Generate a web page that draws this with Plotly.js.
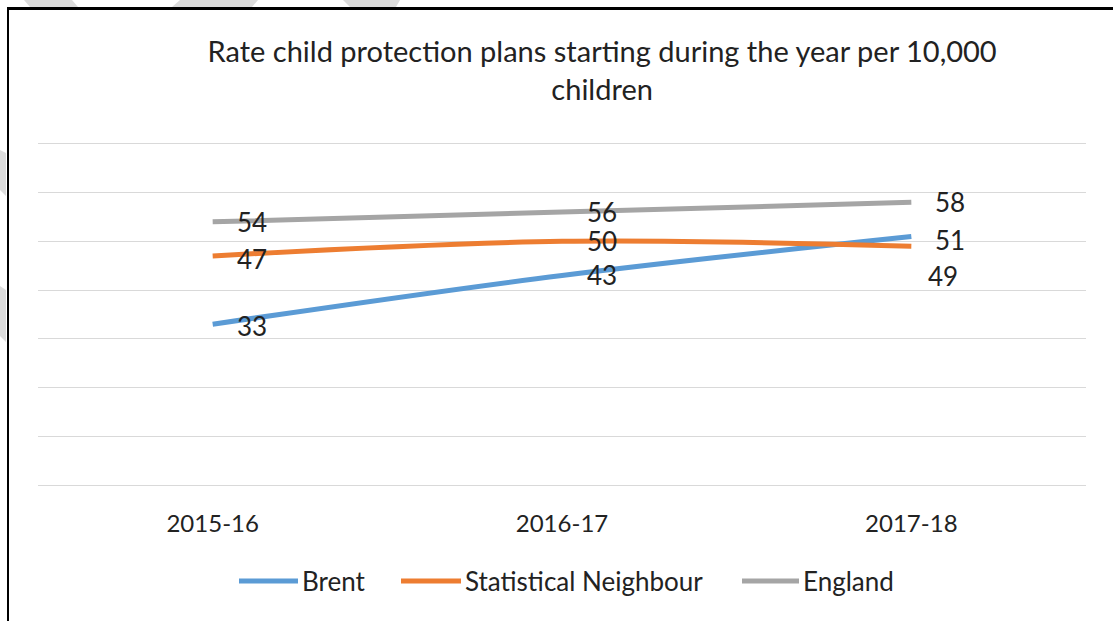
<!DOCTYPE html>
<html>
<head>
<meta charset="utf-8">
<script src="https://cdn.plot.ly/plotly-3.0.1.min.js"></script>
<style>
  html, body { margin: 0; padding: 0; background: #ffffff; }
  #wrap { position: relative; width: 1113px; height: 621px; overflow: hidden; }
  #chart { position: absolute; left: 0; top: 0; width: 1113px; height: 621px; }
  #frame { position: absolute; left: 7px; top: 7px; width: 1120px; height: 640px;
           border-left: 2px solid #000; border-top: 3px solid #000; pointer-events: none; }
  #wm { position: absolute; left: 0; top: 0; pointer-events: none; }
</style>
</head>
<body>
<div id="wrap">
  <div id="chart"></div>
  <svg id="wm" width="1113" height="621">
    <polygon points="24,0 72,0 78,7 30,7" fill="#dcdcdc"/>
    <polygon points="180,0 258,0 252,7 172,7" fill="#dcdcdc"/>
    <polygon points="343,0 400,0 396,7 350,7" fill="#dcdcdc"/>
    <polygon points="0,150 6,153 6,196 0,190" fill="#dcdcdc"/>
    <polygon points="0,286 6,290 6,342 0,336" fill="#dcdcdc"/>
  </svg>
  <div id="frame"></div>
</div>
<script>
// ---- data ----
const categories = ["2015-16", "2016-17", "2017-18"];
const brent = [33, 43, 51];
const statNeighbour = [47, 50, 49];
const england = [54, 56, 58];
const seriesNames = ["Brent", "Statistical Neighbour", "England"];
const chartTitle = "Rate child protection plans starting during the year per 10,000<br>children";

// ---- styling ----
const colors = ["#5B9BD5", "#ED7D31", "#A5A5A5"];
const FONT = "Lato, 'Open Sans', sans-serif";
const TEXT = "#222222";
const seriesValues = [brent, statNeighbour, england];

const M = { l: 38, r: 27, t: 139, b: 136 };
const W = 1113, H = 621;
const PW = W - M.l - M.r, PH = H - M.t - M.b;
const px2x = p => (p - M.l) / PW;
const py2y = p => (H - M.b - p) / PH;

const traces = seriesValues.map((vals, i) => ({
  type: "scatter",
  mode: "lines",
  x: categories,
  y: vals,
  name: seriesNames[i],
  line: { color: colors[i], width: 5, shape: "spline", smoothing: 1 },
  hoverinfo: "x+y+name"
}));

// label offsets (pixels) per series per category
const labelShiftY = [
  [-2, 0, -4],   // Brent
  [-3, 0, -30],  // Statistical Neighbour
  [0, 0, 0]      // England
];
const labelShiftX = [
  [39, 40, 39],
  [39, 40, 32],
  [39, 40, 39]
];
const annotations = [];
seriesValues.forEach((vals, s) => {
  vals.forEach((v, c) => {
    annotations.push({
      x: categories[c], y: v, xref: "x", yref: "y",
      text: String(v), showarrow: false,
      xanchor: "center", yanchor: "middle",
      xshift: labelShiftX[s][c], yshift: labelShiftY[s][c],
      font: { family: FONT, size: 26, color: TEXT }
    });
  });
});

// custom legend (long line keys like the original)
const legendKeys = [[239, 298], [401, 461], [742, 799]];
const legendY = 581;
const shapes = [];
seriesNames.forEach((name, i) => {
  const [a, b] = legendKeys[i];
  shapes.push({
    type: "line", xref: "paper", yref: "paper",
    x0: px2x(a), x1: px2x(b), y0: py2y(legendY), y1: py2y(legendY),
    line: { color: colors[i], width: 5 }
  });
  annotations.push({
    xref: "paper", yref: "paper",
    x: px2x(b + 2), y: py2y(legendY),
    xanchor: "left", yanchor: "middle",
    text: name, showarrow: false,
    font: { family: FONT, size: 26, color: TEXT }
  });
});

const layout = {
  width: W, height: H,
  margin: { l: M.l, r: M.r, t: M.t, b: M.b, pad: 0 },
  paper_bgcolor: "rgba(0,0,0,0)",
  plot_bgcolor: "rgba(0,0,0,0)",
  font: { family: FONT, color: TEXT, size: 24 },
  title: {
    text: chartTitle,
    x: 0.541, xref: "container", xanchor: "center",
    y: 1 - 62 / 621, yref: "container", yanchor: "middle",
    font: { family: FONT, size: 29, color: TEXT }
  },
  xaxis: {
    type: "category",
    range: [-0.5, 2.5],
    showgrid: false, zeroline: false, showline: false,
    ticks: "", ticklabelstandoff: 22,
    tickfont: { family: FONT, size: 24, color: TEXT },
    fixedrange: true
  },
  yaxis: {
    range: [0, 71],
    dtick: 10, tick0: 0,
    showgrid: true, gridcolor: "#d9d9d9", gridwidth: 1,
    zeroline: true, zerolinecolor: "#d9d9d9", zerolinewidth: 1,
    showticklabels: false, ticks: "", showline: false,
    fixedrange: true
  },
  showlegend: false,
  shapes: shapes,
  annotations: annotations
};

Plotly.newPlot("chart", traces, layout, { displayModeBar: false, staticPlot: true });
</script>
</body>
</html>
